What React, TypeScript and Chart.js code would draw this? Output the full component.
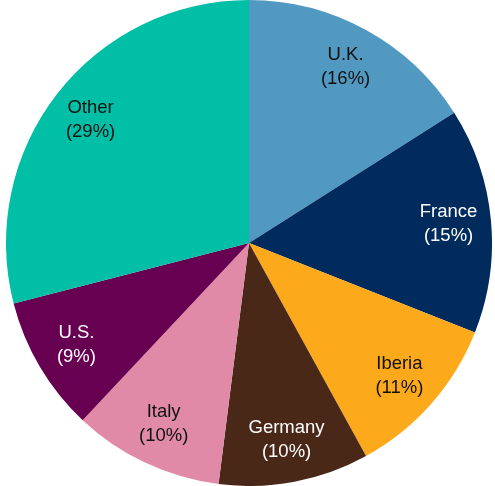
import React, { useEffect, useRef } from "react";
import { Chart, registerables } from "chart.js";

Chart.register(...registerables);

const categories = ["U.K.", "France", "Iberia", "Germany", "Italy", "U.S.", "Other"];
const shares = [16, 15, 11, 10, 10, 9, 29];
const colors = ["#5199c1", "#002b5c", "#fcaa1b", "#4a2817", "#e08aa7", "#680052", "#00bfa6"];
const labelColors = ["#111111", "#ffffff", "#111111", "#ffffff", "#111111", "#ffffff", "#111111"];

const labelPlugin = {
  id: "sliceLabels",
  afterDatasetsDraw(chart: any) {
    const ctx = chart.ctx;
    const meta = chart.getDatasetMeta(0);
    ctx.save();
    ctx.font = '18.5px "Liberation Sans", Arial, sans-serif';
    ctx.textAlign = "center";
    ctx.textBaseline = "middle";
    meta.data.forEach((arc: any, i: number) => {
      const p = arc.getProps(["x", "y", "startAngle", "endAngle", "outerRadius"], true);
      const mid = (p.startAngle + p.endAngle) / 2;
      const r = p.outerRadius * 0.825;
      const x = p.x + Math.cos(mid) * r;
      const y = p.y + Math.sin(mid) * r;
      ctx.fillStyle = labelColors[i];
      ctx.fillText(categories[i], x, y - 12);
      ctx.fillText("(" + shares[i] + "%)", x, y + 12);
    });
    ctx.restore();
  },
};

export default function App() {
  const ref = useRef<HTMLCanvasElement | null>(null);
  useEffect(() => {
    if (!ref.current) return;
    const chart = new Chart(ref.current, {
      type: "pie",
      data: {
        labels: categories,
        datasets: [
          {
            data: shares,
            backgroundColor: colors,
            borderWidth: 0,
          },
        ],
      },
      options: {
        responsive: false,
        animation: false,
        layout: { padding: { left: 3, right: 0, top: 0, bottom: 0 } },
        plugins: {
          legend: { display: false },
          tooltip: { enabled: false },
        },
      },
      plugins: [labelPlugin],
    });
    return () => chart.destroy();
  }, []);
  return (
    <div style={{ position: "fixed", left: 0, top: 0, width: 495, height: 486, background: "#fff" }}>
      <canvas ref={ref} width={495} height={486} />
    </div>
  );
}
